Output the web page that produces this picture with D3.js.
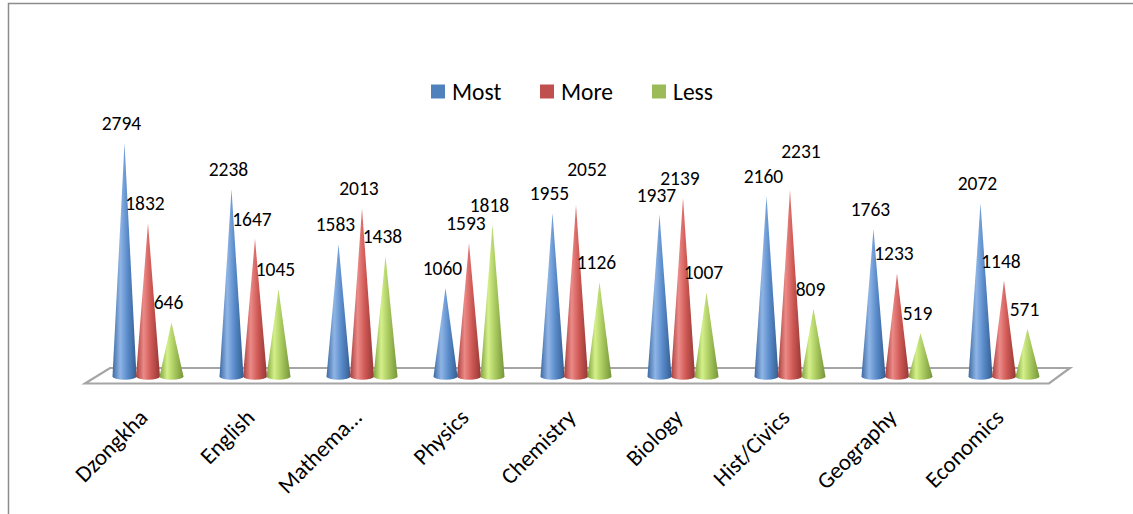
<!DOCTYPE html>
<html>
<head>
<meta charset="utf-8">
<script src="https://cdn.jsdelivr.net/npm/d3@7"></script>
<style>
  html, body { margin: 0; padding: 0; background: #fff; }
  svg { display: block; }
  text { font-family: Carlito, Calibri, Lato, "Open Sans", sans-serif; fill: #000; }
</style>
</head>
<body>
<svg id="chart" width="1133" height="514"></svg>
<script>
// Subjects shown along the floor
const categories = ["Dzongkha", "English", "Mathema…", "Physics", "Chemistry",
                    "Biology", "Hist/Civics", "Geography", "Economics"];
const seriesNames = ["Most", "More", "Less"];
const most = [2794, 2238, 1583, 1060, 1955, 1937, 2160, 1763, 2072];
const more = [1832, 1647, 2013, 1593, 2052, 2139, 2231, 1233, 1148];
const less = [646, 1045, 1438, 1818, 1126, 1007, 809, 519, 571];
const seriesValues = [most, more, less];
const seriesColors = ["#4F81BD", "#C0504D", "#9BBB59"];
// shading stops for the cone surfaces: [edge, highlight, mid, far edge]
const seriesShades = [
  ["#3d6aa3", "#8fb5e6", "#5a8ccb", "#345d91"],
  ["#a63f3c", "#ec8a87", "#cf5955", "#943734"],
  ["#80a23f", "#d4f08a", "#a9c95f", "#76953a"]
];

const svg = d3.select("#chart");

// outer chart frame
svg.append("rect")
  .attr("x", 8.5).attr("y", 3.5)
  .attr("width", 1140).attr("height", 530)
  .attr("fill", "none").attr("stroke", "#8c8c8c").attr("stroke-width", 1.5);

const x = d3.scaleBand().domain(categories).range([94.5, 1057.5]);
const xs = d3.scaleBand().domain(seriesNames).range([-35.25, 35.25]);
const y = d3.scaleLinear().domain([0, 3000]).range([376.5, 125.7]);

const baseY = y(0);
const coneR = 12, coneRy = 3.2;

// gradients for cone shading
const defs = svg.append("defs");
seriesShades.forEach((s, i) => {
  const g = defs.append("linearGradient")
    .attr("id", "cone" + i)
    .attr("x1", "0").attr("y1", "0").attr("x2", "1").attr("y2", "0");
  g.append("stop").attr("offset", "0%").attr("stop-color", s[0]);
  g.append("stop").attr("offset", "32%").attr("stop-color", s[1]);
  g.append("stop").attr("offset", "62%").attr("stop-color", s[2]);
  g.append("stop").attr("offset", "100%").attr("stop-color", s[3]);
});

// floor of the 3D plot area
const [r0, r1] = x.range();
const floorBackY = baseY - 8.5, floorFrontY = baseY + 7;
svg.append("path")
  .attr("d", `M${r0 + 15.5},${floorBackY} L${r1 + 12.5},${floorBackY} L${r1 - 8.5},${floorFrontY} L${r0 - 9.5},${floorFrontY} Z`)
  .attr("fill", "#fff").attr("stroke", "#a5a5a5").attr("stroke-width", 2.2)
  .attr("stroke-linejoin", "miter");

// cones
const cones = [];
categories.forEach((c, ci) => {
  seriesNames.forEach((s, si) => {
    const cx = x(c) + x.bandwidth() / 2 + xs(s) + xs.bandwidth() / 2;
    cones.push({ cat: c, series: s, si, value: seriesValues[si][ci], cx });
  });
});

svg.append("g").selectAll("path.cone")
  .data(cones)
  .join("path")
  .attr("class", "cone")
  .attr("fill", d => `url(#cone${d.si})`)
  .attr("d", d => {
    const top = y(d.value);
    return `M${d.cx},${top} L${d.cx - coneR},${baseY} A${coneR},${coneRy} 0 0 0 ${d.cx + coneR},${baseY} Z`;
  });

// value labels: sit just above each apex; a label that would collide
// with its left neighbour in the group is lifted above it and nudged right
const labelSize = 19.5, capH = 12.5;
cones.forEach((d, i) => {
  d.lx = d.cx - 3;
  d.ly = y(d.value) - 13;
  const prev = i > 0 ? cones[i - 1] : null;
  if (prev && prev.cat === d.cat && Math.abs(prev.ly - d.ly) < capH + 2) {
    d.ly = prev.ly - capH - 12;
    d.lx = d.cx + 11;
  }
});

svg.append("g").selectAll("text")
  .data(cones)
  .join("text")
  .attr("x", d => d.lx)
  .attr("y", d => d.ly)
  .attr("text-anchor", "middle")
  .attr("font-size", labelSize)
  .text(d => d.value);

// category labels, rotated
svg.append("g").selectAll("text")
  .data(categories)
  .join("text")
  .attr("text-anchor", "end")
  .attr("font-size", 23)
  .attr("transform", d => `translate(${x(d) + x.bandwidth() / 2 + 1},${419}) rotate(-45)`)
  .text(d => d);

// legend
const legendX = [431, 540, 652];
const legend = svg.append("g");
seriesNames.forEach((s, i) => {
  legend.append("rect")
    .attr("x", legendX[i]).attr("y", 84.5)
    .attr("width", 14).attr("height", 14)
    .attr("fill", seriesColors[i]);
  legend.append("text")
    .attr("x", legendX[i] + 21).attr("y", 99.5)
    .attr("font-size", 23.5)
    .text(s);
});
</script>
</body>
</html>
